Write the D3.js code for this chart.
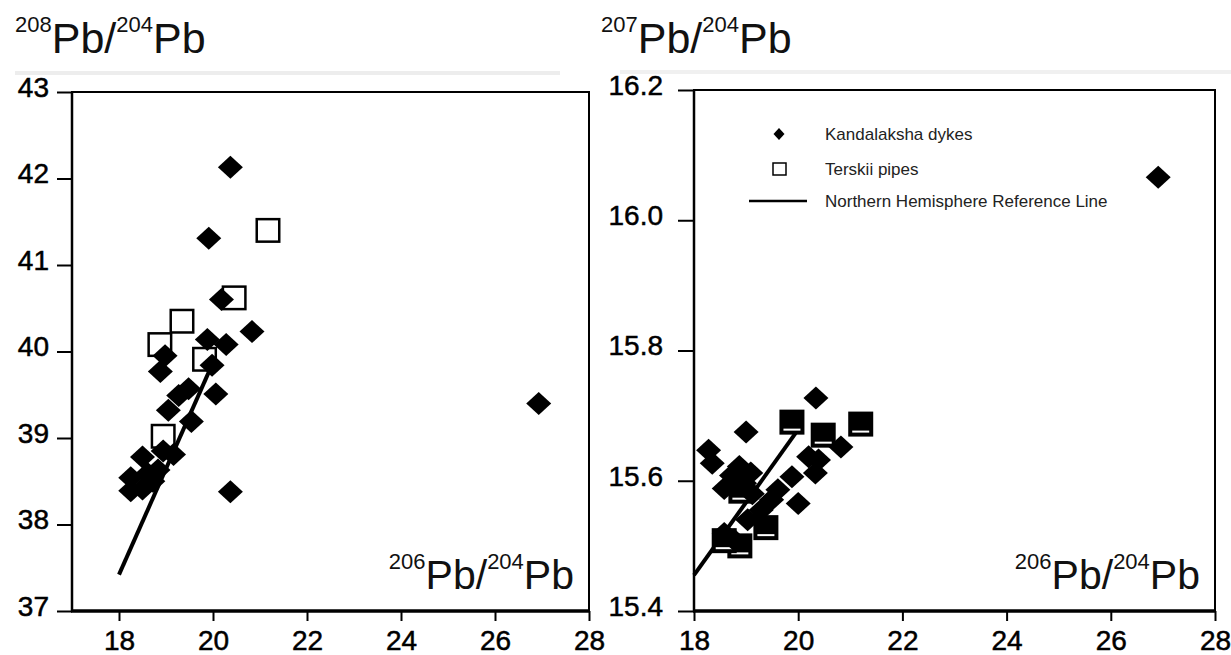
<!DOCTYPE html>
<html>
<head>
<meta charset="utf-8">
<script src="https://cdn.jsdelivr.net/npm/d3@7"></script>
<style>
  body { margin: 0; background: #fff; }
  svg { display: block; font-family: "Liberation Sans", Arial, Helvetica, sans-serif; }
</style>
</head>
<body>
<svg id="chart" width="1231" height="655"></svg>
<script>
// ---- Data: Pb isotope ratios ----
// Kandalaksha dykes, 206Pb/204Pb vs 208Pb/204Pb
const dykes208X = [20.37, 19.91, 20.18, 20.83, 19.88, 20.28, 18.98, 18.88, 19.98, 20.06, 19.48, 19.27, 19.05,
                   19.54, 19.16, 18.94, 18.50, 18.83, 18.61, 18.25, 18.72, 18.50, 18.25, 20.37, 26.93];
const dykes208Y = [42.13, 41.31, 40.60, 40.23, 40.14, 40.08, 39.95, 39.77, 39.84, 39.51, 39.57, 39.49, 39.32,
                   39.19, 38.81, 38.85, 38.78, 38.63, 38.59, 38.54, 38.50, 38.41, 38.39, 38.38, 39.40];
// Terskii pipes, 206Pb/204Pb vs 208Pb/204Pb
const pipes208X = [21.17, 20.45, 19.34, 18.87, 19.82, 18.94];
const pipes208Y = [41.40, 40.62, 40.35, 40.08, 39.91, 39.02];

// Kandalaksha dykes, 206Pb/204Pb vs 207Pb/204Pb
const dykes207X = [19.00, 18.28, 18.35, 18.58, 18.87, 19.09, 18.97, 19.61, 19.49, 20.00, 19.88, 20.20, 20.39,
                   20.33, 20.82, 19.29, 19.03, 18.58, 18.77, 20.34, 26.91, 19.12, 18.72];
const dykes207Y = [15.675, 15.647, 15.627, 15.588, 15.622, 15.612, 15.596, 15.586, 15.571, 15.565, 15.606, 15.637, 15.632,
                   15.612, 15.652, 15.555, 15.540, 15.519, 15.509, 15.727, 16.066, 15.580, 15.608];
// Terskii pipes, 206Pb/204Pb vs 207Pb/204Pb
const pipes207X = [19.88, 20.48, 21.20, 18.90, 19.38, 18.88, 18.58];
const pipes207Y = [15.690, 15.670, 15.687, 15.584, 15.528, 15.500, 15.508];

// Northern Hemisphere Reference Line segment
const refLineX = [18.0, 19.95];
const refLine208Y = [37.42, 39.81];
const refLine207Y = [15.455, 15.673];

// Axis ticks
const xTicks = [18, 20, 22, 24, 26, 28];
const y208Ticks = [37, 38, 39, 40, 41, 42, 43];
const y207Ticks = [15.4, 15.6, 15.8, 16.0, 16.2];

// Legend entries
const legendLabels = ["Kandalaksha dykes", "Terskii pipes", "Northern Hemisphere Reference Line"];

// ---- Drawing ----
const svg = d3.select("#chart");

// faint scanner band above the panels
svg.append("rect").attr("x", 15).attr("y", 71).attr("width", 545).attr("height", 4).attr("fill", "#ededed");
svg.append("rect").attr("x", 620).attr("y", 70).attr("width", 611).attr("height", 4).attr("fill", "#f0f0f0");

const diamondPath = (rx, ry) => `M0,${-ry}L${rx},0L0,${ry}L${-rx},0Z`;

function ratioLabel(g, x, y, anchor, supA, supB, big, small) {
  const t = g.append("text").attr("x", x).attr("y", y).attr("text-anchor", anchor).attr("fill", "#111");
  const up = big * 0.5;
  t.append("tspan").attr("font-size", small).attr("dy", -up).text(supA);
  t.append("tspan").attr("font-size", big).attr("dy", up).text("Pb/");
  t.append("tspan").attr("font-size", small).attr("dy", -up).text(supB);
  t.append("tspan").attr("font-size", big).attr("dy", up).text("Pb");
}

function styleTickText(sel) {
  sel.attr("font-size", 28).attr("fill", "#000").attr("stroke", "#000").attr("stroke-width", 0.5);
}

function panel(cfg) {
  const g = svg.append("g");
  const x = d3.scaleLinear().domain(cfg.xDomain).range([cfg.left, cfg.right]);
  const y = d3.scaleLinear().domain(cfg.yDomain).range([cfg.bottom, cfg.top]);

  // y axis
  const ya = g.append("g").attr("transform", `translate(${cfg.left},0)`)
    .call(d3.axisLeft(y).tickValues(cfg.yTicks).tickSize(cfg.yTickLen).tickPadding(cfg.yPad).tickFormat(cfg.yFormat));
  ya.select(".domain").remove();
  ya.selectAll(".tick line").attr("stroke", "#000").attr("stroke-width", 2);
  ya.selectAll(".tick text").call(styleTickText).attr("dy", "0.16em");

  // x axis
  const xa = g.append("g").attr("transform", `translate(0,${cfg.bottom})`)
    .call(d3.axisBottom(x).tickValues(xTicks).tickSize(10).tickPadding(9).tickFormat(d3.format("d")));
  xa.select(".domain").remove();
  xa.selectAll(".tick line").attr("stroke", "#000").attr("stroke-width", 2);
  xa.selectAll(".tick text").call(styleTickText);

  // frame
  g.append("rect").attr("x", cfg.left).attr("y", cfg.top)
    .attr("width", cfg.right - cfg.left).attr("height", cfg.bottom - cfg.top)
    .attr("fill", "none").attr("stroke", "#000").attr("stroke-width", 2);
  g.append("line").attr("x1", cfg.left - 1).attr("x2", cfg.right + 1)
    .attr("y1", cfg.bottom).attr("y2", cfg.bottom).attr("stroke", "#000").attr("stroke-width", 3.5);
  g.append("line").attr("x1", cfg.left).attr("x2", cfg.left)
    .attr("y1", cfg.top).attr("y2", cfg.bottom).attr("stroke", "#000").attr("stroke-width", 2.5);

  // reference line
  const line = d3.line().x(d => x(d[0])).y(d => y(d[1]));
  g.append("path").datum(refLineX.map((v, i) => [v, cfg.refY[i]]))
    .attr("d", line).attr("fill", "none").attr("stroke", "#000").attr("stroke-width", 4);

  // Terskii pipes
  const pipes = cfg.pipesX.map((v, i) => [v, cfg.pipesY[i]]);
  const s = 25;
  const pg = g.append("g").selectAll("g").data(pipes).join("g")
    .attr("transform", d => `translate(${x(d[0])},${y(d[1])})`);
  pg.append("rect").attr("x", -s / 2 + 1.25).attr("y", -s / 2 + 1.25)
    .attr("width", s - 2.5).attr("height", s - 2.5)
    .attr("fill", cfg.filledPipes ? "#000" : "#fff").attr("stroke", "#000").attr("stroke-width", 2.5);
  if (cfg.filledPipes) {
    pg.append("line").attr("x1", -s / 2 + 4).attr("x2", s / 2 - 4)
      .attr("y1", s / 2 - 5).attr("y2", s / 2 - 5).attr("stroke", "#fff").attr("stroke-width", 2);
  }

  // Kandalaksha dykes
  const dykes = cfg.dykesX.map((v, i) => [v, cfg.dykesY[i]]);
  g.append("g").selectAll("path").data(dykes).join("path")
    .attr("d", diamondPath(12.5, 11.5))
    .attr("transform", d => `translate(${x(d[0])},${y(d[1])})`)
    .attr("fill", "#000");

  // axis titles
  ratioLabel(svg, cfg.titleX, 53, "start", cfg.titleSup, "204", 43, 22);
  ratioLabel(g, cfg.xLabelEnd, 589, "end", "206", "204", 41, 22);
  return { g, x, y };
}

panel({
  xDomain: [17, 28], yDomain: [37, 43],
  left: 72, right: 589, top: 92, bottom: 611,
  yTicks: y208Ticks, yFormat: d3.format("d"), yTickLen: 15, yPad: 8,
  dykesX: dykes208X, dykesY: dykes208Y, pipesX: pipes208X, pipesY: pipes208Y,
  refY: refLine208Y, filledPipes: false,
  titleX: 15, titleSup: "208", xLabelEnd: 574
});

panel({
  xDomain: [18, 28], yDomain: [15.4, 16.2],
  left: 694, right: 1215, top: 90, bottom: 611,
  yTicks: y207Ticks, yFormat: d3.format(".1f"), yTickLen: 16, yPad: 15,
  dykesX: dykes207X, dykesY: dykes207Y, pipesX: pipes207X, pipesY: pipes207Y,
  refY: refLine207Y, filledPipes: true,
  titleX: 601, titleSup: "207", xLabelEnd: 1200
});

// legend
const lg = svg.append("g");
const rowY = [134, 169, 201];
lg.append("path").attr("d", diamondPath(5.5, 6)).attr("transform", `translate(779,${rowY[0]})`).attr("fill", "#000");
lg.append("rect").attr("x", 773).attr("y", rowY[1] - 6).attr("width", 13).attr("height", 12)
  .attr("fill", "none").attr("stroke", "#000").attr("stroke-width", 1.5);
lg.append("line").attr("x1", 749).attr("x2", 807).attr("y1", rowY[2]).attr("y2", rowY[2])
  .attr("stroke", "#000").attr("stroke-width", 2.5);
lg.selectAll("text.leg").data(legendLabels).join("text").attr("class", "leg")
  .attr("x", 825).attr("y", (d, i) => rowY[i]).attr("dy", "0.35em")
  .attr("font-size", 17).attr("fill", "#222").text(d => d);
</script>
</body>
</html>
